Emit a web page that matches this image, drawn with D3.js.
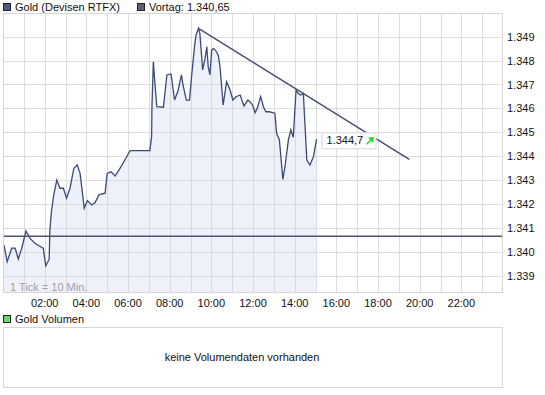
<!DOCTYPE html>
<html>
<head>
<meta charset="utf-8">
<script src="https://cdn.jsdelivr.net/npm/d3@7"></script>
<style>
  body { margin: 0; background: #fff; }
  svg text { font-family: "Liberation Sans", Arial, sans-serif; font-size: 11px; }
</style>
</head>
<body>
<svg id="chart"></svg>
<script>
// ########## Data ##########

// intraday quotes, "HH:MM" and price
times = ["00:03","00:12","00:25","00:35","00:44","00:54","01:06","01:18","01:32","01:51","01:56",
  "02:03","02:13","02:15","02:20","02:27","02:35","02:44","02:54","03:03","03:13","03:24","03:34",
  "03:42","03:54","04:03","04:15","04:25","04:36","04:54","05:00","05:11","05:23","05:37","05:51",
  "06:06","07:03","07:08","07:09","07:13","07:16","07:23","07:42","07:52","08:04","08:14","08:24",
  "08:34","08:38","08:48","08:57","09:04","09:12","09:16","09:23","09:27","09:35","09:42","09:47",
  "09:51","09:56","10:01","10:06","10:13","10:20","10:25","10:34","10:44","10:54","11:02","11:11",
  "11:23","11:34","11:45","11:51","11:59","12:06","12:12","12:22","12:30","12:37","12:47","13:03",
  "13:08","13:16","13:26","13:32","13:42","13:49","13:56","14:04","14:10","14:17","14:25","14:30",
  "14:35","14:44","14:54","15:03"];
prices = [1.34028,1.33959,1.34015,1.34015,1.33970,1.34015,1.34087,1.34056,1.34036,1.34019,1.34015,
  1.33941,1.33969,1.34091,1.34175,1.34245,1.34300,1.34266,1.34266,1.34224,1.34266,1.34349,1.34363,
  1.34328,1.34182,1.34214,1.34196,1.34205,1.34238,1.34245,1.34328,1.34335,1.34317,1.34349,1.34384,
  1.34423,1.34423,1.34482,1.34610,1.34795,1.34733,1.34607,1.34605,1.34740,1.34744,1.34635,1.34673,
  1.34740,1.34702,1.34635,1.34635,1.34747,1.34865,1.34907,1.34935,1.34914,1.34761,1.34810,1.34858,
  1.34774,1.34740,1.34844,1.34851,1.34841,1.34823,1.34774,1.34614,1.34712,1.34677,1.34635,1.34649,
  1.34656,1.34610,1.34635,1.34628,1.34614,1.34582,1.34600,1.34649,1.34607,1.34586,1.34586,1.34580,
  1.34496,1.34468,1.34303,1.34356,1.34468,1.34510,1.34479,1.34677,1.34663,1.34656,1.34663,1.34523,
  1.34384,1.34363,1.34398,1.34471];

prevClose = 1.34065;
prevCloseLabel = "Vortag: 1.340,65";
trendTimes = ["09:23", "19:30"];
trendPrices = [1.34935, 1.34387];

hourTicks = [2, 4, 6, 8, 10, 12, 14, 16, 18, 20, 22];
priceTicks = [1.339, 1.340, 1.341, 1.342, 1.343, 1.344, 1.345, 1.346, 1.347, 1.348, 1.349];

lastLabel = "1.344,7";

// ########## Helpers ##########
function toHours(s) {
    var p = s.split(":");
    return +p[0] + (+p[1]) / 60;
}

data = times.map(function (t, i) { return { h: toHours(t), v: prices[i] }; });
trend = trendTimes.map(function (t, i) { return { h: toHours(t), v: trendPrices[i] }; });

w = 545;
h = 395;

var pLeft = 3, pRight = 503, pTop = 13, pBottom = 293;

svg = d3.select("#chart").attr("width", w).attr("height", h);

x = d3.scaleLinear().domain([0, 24]).range([pLeft, pRight]);
y = d3.scaleLinear().domain([1.339, 1.349]).range([275.7, 36.7]);

// ########## Legend ##########
function legendBox(lx, ly, fill, label) {
    svg.append("rect").attr("x", lx + 0.5).attr("y", ly + 0.5).attr("width", 7).attr("height", 7)
        .attr("fill", fill).attr("stroke", "#222");
    svg.append("text").attr("x", lx + 12).attr("y", ly + 8).attr("fill", "#111").text(label);
}
legendBox(3, 3, "#4a5a8c", "Gold (Devisen RTFX)");
legendBox(137, 3, "#5c6078", prevCloseLabel);

// ########## Area ##########
svg.append("clipPath").attr("id", "plotclip").append("rect")
    .attr("x", pLeft).attr("y", pTop).attr("width", pRight - pLeft).attr("height", pBottom - pTop);

area = d3.area()
    .x(function (d) { return x(d.h); })
    .y0(pBottom)
    .y1(function (d) { return y(d.v); });

areaData = [{ h: 0, v: data[0].v }].concat(data);

svg.append("path").datum(areaData)
    .attr("clip-path", "url(#plotclip)")
    .attr("d", area)
    .attr("fill", "#eef1fa");

// ########## Grid ##########
grid = svg.append("g");
grid.selectAll("line.v").data(d3.range(1, 24)).enter().append("line")
    .attr("x1", function (d) { return Math.round(x(d)) + 0.5; })
    .attr("x2", function (d) { return Math.round(x(d)) + 0.5; })
    .attr("y1", pTop).attr("y2", pBottom)
    .attr("stroke", "#d4d4d4").attr("stroke-opacity", 0.8);
grid.selectAll("line.h").data(priceTicks).enter().append("line")
    .attr("x1", pLeft).attr("x2", pRight)
    .attr("y1", function (d) { return Math.round(y(d)) + 0.5; })
    .attr("y2", function (d) { return Math.round(y(d)) + 0.5; })
    .attr("stroke", "#d4d4d4").attr("stroke-opacity", 0.8);

// ########## Lines ##########
line = d3.line()
    .x(function (d) { return x(d.h); })
    .y(function (d) { return y(d.v); });

svg.append("path").datum(data)
    .attr("d", line)
    .attr("fill", "none")
    .attr("stroke", "#3b4a78")
    .attr("stroke-width", 1.3);

// previous close
svg.append("line")
    .attr("x1", pLeft).attr("x2", pRight)
    .attr("y1", y(prevClose)).attr("y2", y(prevClose))
    .attr("stroke", "#4d5274").attr("stroke-width", 1.3);

// trend line
svg.append("path").datum(trend)
    .attr("d", line)
    .attr("fill", "none")
    .attr("stroke", "#4d5274")
    .attr("stroke-width", 1.6);

// plot border
svg.append("rect")
    .attr("x", pLeft + 0.5).attr("y", pTop + 0.5)
    .attr("width", pRight - pLeft - 1).attr("height", pBottom - pTop - 1)
    .attr("fill", "none").attr("stroke", "#d6d6d6");

// ########## Last value label ##########
last = data[data.length - 1];
lx = x(last.h) + 5;
ly = y(last.v) - 7;
svg.append("rect").attr("x", lx + 0.5).attr("y", ly + 0.5).attr("width", 54).attr("height", 16)
    .attr("fill", "#fff").attr("stroke", "#d8d8d8");
svg.append("text").attr("x", lx + 5).attr("y", ly + 12).attr("fill", "#111").text(lastLabel);
// green arrow
ax = lx + 45; ay = ly + 12;
svg.append("line").attr("x1", ax).attr("y1", ay).attr("x2", ax + 6).attr("y2", ay - 6)
    .attr("stroke", "#22dd22").attr("stroke-width", 1.5);
svg.append("path")
    .attr("d", "M" + (ax + 7.5) + "," + (ay - 7.5) + " l-6,1 l5,5 z")
    .attr("fill", "#22dd22");

// ########## Axes labels ##########
svg.append("g").selectAll("text").data(hourTicks).enter().append("text")
    .attr("x", function (d) { return x(d); })
    .attr("y", 307)
    .attr("text-anchor", "middle")
    .attr("fill", "#111")
    .text(function (d) { return (d < 10 ? "0" : "") + d + ":00"; });

svg.append("g").selectAll("text").data(priceTicks).enter().append("text")
    .attr("x", pRight + 4)
    .attr("y", function (d) { return y(d) + 4; })
    .attr("fill", "#111")
    .text(function (d) { return d3.format(".3f")(d); });

svg.append("text").attr("x", 10).attr("y", 291).attr("fill", "#a0a0a0").text("1 Tick = 10 Min.");

// ########## Volume panel ##########
legendBox(3, 315, "#66dd66", "Gold Volumen");
svg.append("rect").attr("x", pLeft + 0.5).attr("y", 327.5).attr("width", pRight - pLeft - 1).attr("height", 60)
    .attr("fill", "#fff").attr("stroke", "#d6d6d6");
svg.append("text").attr("x", 242).attr("y", 361).attr("text-anchor", "middle").attr("fill", "#111")
    .text("keine Volumendaten vorhanden");
</script>
</body>
</html>
